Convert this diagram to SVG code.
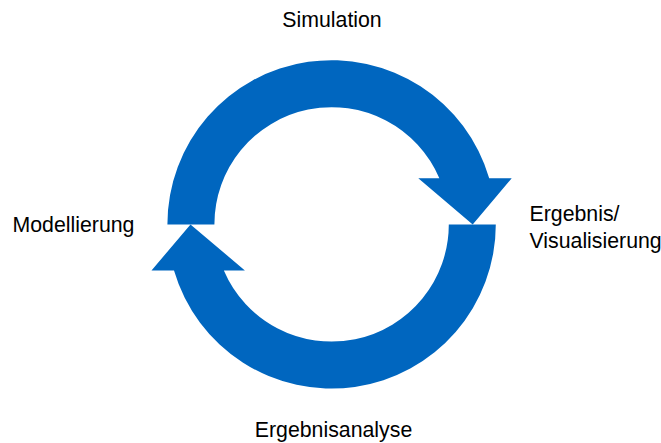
<svg xmlns="http://www.w3.org/2000/svg" width="661" height="443" viewBox="0 0 661 443">
<style>
.arrow{fill:#0066BF;}
.lbl{font-family:"Liberation Sans",Arial,sans-serif;font-size:21.3px;fill:#000;}
</style>
<defs>
<path id="cyc" d="M167.4,224.4 A164.2,164.2 0 0 1 489.2,178.3 L511.7,178.3 L472.7,224.4 L418.3,178.3 L439.35,178.3 A117.2,117.2 0 0 0 214.4,224.4 Z"/>
</defs>
<rect width="661" height="443" fill="#fff"/>
<g id="connectors">
<use href="#cyc" class="arrow" id="arrow-top"/>
<use href="#cyc" class="arrow" id="arrow-bottom" transform="rotate(180 331.6 224.4)"/>
</g>
<g id="node-simulation"><text class="lbl" x="332" y="27" text-anchor="middle">Simulation</text></g>
<g id="node-modellierung"><text class="lbl" x="12.5" y="232">Modellierung</text></g>
<g id="node-ergebnis"><text class="lbl" x="529.5" y="221">Ergebnis/</text><text class="lbl" x="529.5" y="248">Visualisierung</text></g>
<g id="node-analyse"><text class="lbl" x="333.5" y="437" text-anchor="middle">Ergebnisanalyse</text></g>
</svg>
